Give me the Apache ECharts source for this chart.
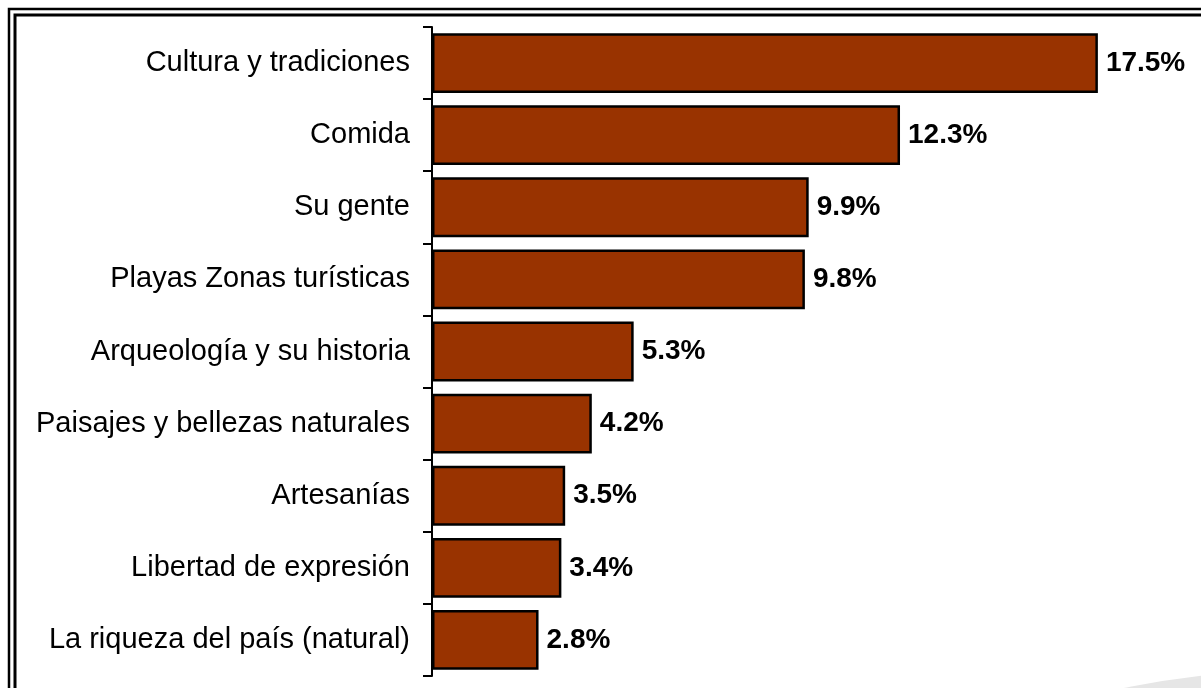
<!DOCTYPE html>
<html>
<head>
    <meta charset="utf-8">
    <title>chart</title>
    <script src="https://cdn.jsdelivr.net/npm/echarts@6.0.0/dist/echarts.min.js"></script>
    <style>
        html, body { margin: 0; padding: 0; background: #fff; }
        #chart { width: 1201px; height: 688px; }
    </style>
</head>
<body>
<div id="chart"></div>
<script>
    // datos
    var categorias = [
        'Cultura y tradiciones',
        'Comida',
        'Su gente',
        'Playas Zonas turísticas',
        'Arqueología y su historia',
        'Paisajes y bellezas naturales',
        'Artesanías',
        'Libertad de expresión',
        'La riqueza del país (natural)'
    ];
    var porcentajes = [17.5, 12.3, 9.9, 9.8, 5.3, 4.2, 3.5, 3.4, 2.8];

    var myChart = echarts.init(document.getElementById('chart'));

    var option = {
        backgroundColor: '#fff',
        animation: false,
        graphic: [
            // mancha gris abajo a la derecha
            {
                type: 'circle',
                shape: { cx: 1300, cy: 1541, r: 871 },
                style: { fill: '#e6e6e6' },
                z: -1
            },
            // marco doble
            {
                type: 'polyline',
                shape: { points: [[9, 700], [9, 9], [1210, 9]] },
                style: { stroke: '#000', lineWidth: 2.5, fill: null }
            },
            {
                type: 'polyline',
                shape: { points: [[15, 700], [15, 15], [1210, 15]] },
                style: { stroke: '#000', lineWidth: 3, fill: null }
            }
        ],
        grid: {
            left: 432,
            right: 8,
            top: 27,
            bottom: 12,
            containLabel: false
        },
        xAxis: {
            type: 'value',
            min: 0,
            max: 20,
            show: false
        },
        yAxis: {
            type: 'category',
            inverse: true,
            data: categorias,
            axisLine: { show: true, lineStyle: { color: '#000', width: 2 } },
            axisTick: { show: true, length: 9, lineStyle: { color: '#000', width: 2 } },
            axisLabel: {
                margin: 22,
                color: '#000',
                fontFamily: 'Liberation Sans',
                fontSize: 29
            }
        },
        series: [{
            type: 'bar',
            data: porcentajes,
            barCategoryGap: '17%',
            itemStyle: {
                color: '#993300',
                borderColor: '#000',
                borderWidth: 2.5
            },
            label: {
                show: true,
                position: 'right',
                distance: 8,
                color: '#000',
                fontFamily: 'Liberation Sans',
                fontWeight: 'bold',
                fontSize: 28,
                formatter: function (p) { return p.value.toFixed(1) + '%'; }
            }
        }]
    };

    myChart.setOption(option);
</script>
</body>
</html>
